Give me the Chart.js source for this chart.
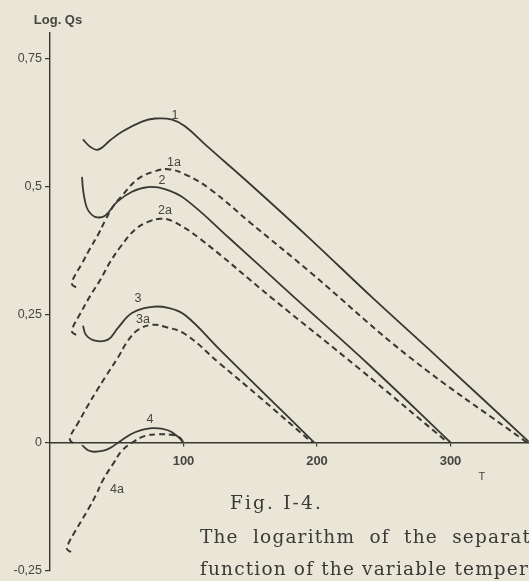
<!DOCTYPE html>
<html><head><meta charset="utf-8">
<script src="https://cdn.jsdelivr.net/npm/chart.js@4/dist/chart.umd.min.js"></script>
<style>
html,body{margin:0;padding:0;background:#e9e6d7;width:529px;height:581px;overflow:hidden}
#wrap{position:absolute;left:0;top:0;width:529px;height:581px}
.cap{position:absolute;font-family:"DejaVu Serif",serif;font-size:18.5px;color:#3a3935;white-space:nowrap;line-height:20px}
</style></head><body>
<div id="wrap"><canvas id="c" width="529" height="581"></canvas></div>
<div class="cap" id="cap0" style="left:230px;top:493px">Fig. I-4.</div>
<div class="cap" id="cap1" style="left:200px;top:527px">The logarithm of the separat</div>
<div class="cap" id="cap2" style="left:200px;top:559px">function of the variable temper</div>
<script>
// ---- data ----
const T1  = [24.7,30.0,36.0,44.9,53.9,68.9,78.7,91.4,101.1,117.6,149.8,194.8,241.9,290.6,358.5];
const V1  = [0.592,0.578,0.572,0.590,0.607,0.627,0.633,0.631,0.618,0.579,0.505,0.398,0.282,0.166,0.002];
const T1a = [19.5,16.5,17.2,24.0,30.0,36.0,41.2,47.2,53.9,65.9,78.7,88.4,101.1,119.9,149.8,194.8,269.7,357.3];
const V1a = [0.303,0.309,0.319,0.350,0.379,0.406,0.433,0.461,0.482,0.515,0.530,0.534,0.524,0.495,0.430,0.333,0.166,0.0];
const T2  = [24.0,24.7,26.2,28.5,33.7,41.2,50.2,61.4,73.4,86.1,101.1,134.8,182.0,239.7,300];
const V2  = [0.519,0.495,0.472,0.454,0.441,0.443,0.470,0.490,0.499,0.495,0.476,0.398,0.286,0.150,0];
const T2a = [19.5,16.5,17.2,22.5,30.0,37.5,44.9,52.4,63.7,73.4,82.4,91.4,112.4,166.3,232.2,298];
const V2a = [0.210,0.216,0.226,0.251,0.286,0.317,0.352,0.381,0.416,0.431,0.437,0.433,0.398,0.282,0.143,0];
const T3  = [24.7,27.0,33.7,43.4,50.9,61.4,76.4,88.4,101.1,127.3,157.3,198];
const V3  = [0.228,0.210,0.199,0.201,0.224,0.253,0.265,0.263,0.249,0.181,0.104,0];
const T3a = [17.2,15.0,15.7,21.0,28.5,35.2,41.2,50.9,58.4,65.9,76.4,86.1,101.1,127.3,157.3,196.3];
const V3a = [-0.001,0.005,0.015,0.038,0.073,0.102,0.127,0.166,0.199,0.220,0.230,0.226,0.212,0.154,0.088,0];
const T4  = [24.0,28.5,33.7,43.4,53.9,63.7,76.4,88.4,95.9,100];
const V4  = [-0.005,-0.015,-0.018,-0.013,0.005,0.020,0.028,0.024,0.011,0];
const T4a = [15.7,12.7,13.5,18.7,28.5,34.5,39.7,47.2,53.9,62.2,71.2,80.9,91.4,97.4,100];
const V4a = [-0.214,-0.208,-0.199,-0.174,-0.131,-0.102,-0.073,-0.042,-0.016,0.001,0.013,0.016,0.015,0.009,0];

const curveNames = ['1','1a','2','2a','3','3a','4','4a'];
const labelT = [93.6,92.9,83.9,86.1,65.9,69.7,74.9,50.2];
const labelV = [0.639,0.546,0.511,0.453,0.282,0.240,0.044,-0.092];

const xTickValues = [100,200,300];
const xTickLabels = ['100','200','300'];
const yTickValues = [-0.25,0,0.25,0.5,0.75];
const yTickLabels = ['-0,25','0','0,25','0,5','0,75'];
const yTitle = 'Log. Qs';
const xTitle = 'T';

// ---- chart ----
const INK = '#383733';
const TXT = '#46453f';
const SANS = '"Liberation Sans", sans-serif';
function pts(T,V){return T.map((t,i)=>({x:t,y:V[i]}));}
const series = [[T1,V1,false],[T1a,V1a,true],[T2,V2,false],[T2a,V2a,true],[T3,V3,false],[T3a,V3a,true],[T4,V4,false],[T4a,V4a,true]];
const datasets = series.map((s,i)=>({
  label: curveNames[i],
  data: pts(s[0],s[1]),
  showLine: true,
  borderColor: INK,
  borderWidth: s[2]?2:1.8,
  borderDash: s[2]?[6,4]:[],
  pointRadius: 0,
  tension: 0.4,
  fill: false
}));

const textPlugin = {
  id:'texts',
  afterDraw(chart){
    const ctx = chart.ctx, xs = chart.scales.x, ys = chart.scales.y;
    ctx.save();
    ctx.fillStyle = TXT;
    ctx.font = '12.5px ' + SANS;
    ctx.textAlign = 'center'; ctx.textBaseline = 'middle';
    curveNames.forEach((n,i)=>{
      ctx.fillText(n, xs.getPixelForValue(labelT[i]), ys.getPixelForValue(labelV[i]));
    });
    ctx.font = 'bold 13px ' + SANS;
    ctx.fillText(yTitle, chart.chartArea.left + 8, chart.chartArea.top - 13);
    ctx.font = '11px ' + SANS;
    ctx.fillText(xTitle, xs.getPixelForValue(323.5), ys.getPixelForValue(-0.067));
    ctx.restore();
  }
};

new Chart(document.getElementById('c'), {
  type: 'scatter',
  data: { datasets },
  options: {
    responsive: false,
    animation: false,
    events: [],
    layout: { padding: { top: 33, bottom: 6.5, left: 0, right: 0 } },
    plugins: { legend: { display: false }, tooltip: { enabled: false } },
    scales: {
      x: {
        type: 'linear', min: 0, max: 358.8,
        position: { y: 0 },
        afterBuildTicks(s){ s.ticks = xTickValues.map(v=>({value:v})); },
        ticks: { callback:(v)=>xTickLabels[xTickValues.indexOf(v)], color: TXT, font:{ family: SANS, size: 13, weight: 'bold' }, padding: 8, maxRotation: 0 },
        grid: { drawOnChartArea: false, drawTicks: true, tickLength: 3, color: INK, lineWidth: 1.2 },
        border: { display: true, color: INK, width: 1.4 }
      },
      y: {
        type: 'linear', min: -0.25, max: 0.80,
        afterBuildTicks(s){ s.ticks = yTickValues.map(v=>({value:v})); },
        afterFit(s){ s.width = 50; },
        ticks: { callback:(v)=>yTickLabels[yTickValues.indexOf(v)], color: TXT, font:{ family: SANS, size: 12.5 }, padding: 3 },
        grid: { drawOnChartArea: false, drawTicks: true, tickLength: 5, color: INK, lineWidth: 1.2 },
        border: { display: true, color: INK, width: 1.4 }
      }
    }
  },
  plugins: [textPlugin]
});

// fit caption lines to their measured extents in the reference
function fitLetters(id, target){
  const el = document.getElementById(id);
  const n = el.textContent.length;
  const w = el.getBoundingClientRect().width;
  const ls = (target - w)/n;
  el.style.letterSpacing = ls + 'px';
  return ls;
}
function fitWords(id, target, ls){
  const el = document.getElementById(id);
  el.style.letterSpacing = ls + 'px';
  const n = (el.textContent.match(/ /g)||[]).length;
  const w = el.getBoundingClientRect().width;
  el.style.wordSpacing = ((target - w)/n) + 'px';
}
fitLetters('cap0', 93);
const lsBody = fitLetters('cap2', 329);
fitWords('cap1', 331, lsBody);
</script>
</body></html>
